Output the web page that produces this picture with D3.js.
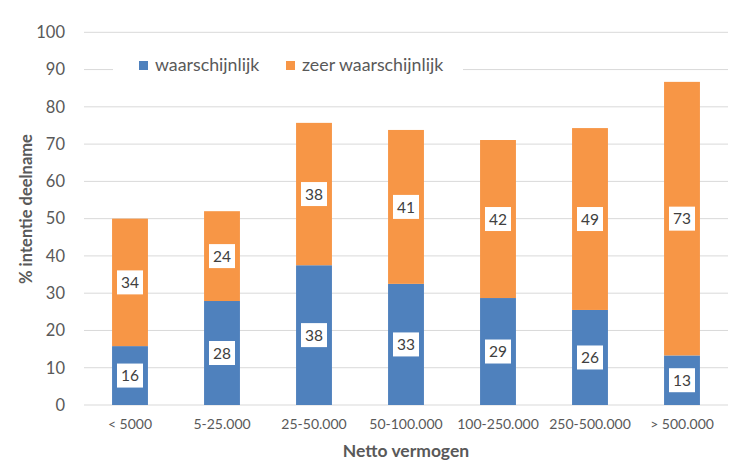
<!DOCTYPE html>
<html><head><meta charset="utf-8">
<script src="https://cdn.jsdelivr.net/npm/d3@7"></script>
<style>body{margin:0;background:#fff}svg{display:block}</style>
</head><body>
<svg id="c" width="740" height="473"></svg>
<script>
const categories = ["< 5000","5-25.000","25-50.000","50-100.000","100-250.000","250-500.000","> 500.000"];
const waarschijnlijk = [15.8, 27.9, 37.5, 32.5, 28.7, 25.5, 13.3];
const zeerWaarschijnlijk = [34.2, 24.1, 38.2, 41.3, 42.4, 48.8, 73.4];
const seriesNames = ["waarschijnlijk","zeer waarschijnlijk"];
const yTicks = [0,10,20,30,40,50,60,70,80,90,100];
const colors = ["#4F81BD","#F79646"];
const font = "Lato, 'Open Sans', sans-serif";

const svg = d3.select("#c");
const m = {left:84, right:12, top:32, bottom:68};
const W = 740, H = 473;
const x = d3.scaleBand().domain(categories).range([m.left, W-m.right]).paddingInner(0.61).paddingOuter(0.305);
const y = d3.scaleLinear().domain([0,100]).range([405, 32.3]);

// gridlines
svg.append("g").selectAll("line").data(yTicks).join("line")
  .attr("x1", m.left).attr("x2", W-m.right)
  .attr("y1", d=>y(d)).attr("y2", d=>y(d))
  .attr("stroke", "#d9d9d9").attr("stroke-width", 1);

// y axis
const yAxis = svg.append("g").attr("transform", `translate(${m.left},0)`)
  .call(d3.axisLeft(y).tickValues(yTicks).tickSize(0).tickPadding(19));
yAxis.select(".domain").remove();
yAxis.selectAll("text").attr("font-family", font).attr("font-size", 16.5).attr("fill", "#595959");

// x axis
const xAxis = svg.append("g").attr("transform", `translate(0,${y(0)})`)
  .call(d3.axisBottom(x).tickSize(0).tickPadding(14));
xAxis.select(".domain").remove();
xAxis.selectAll("text").attr("font-family", font).attr("font-size", 14).attr("fill", "#595959");

// stack
const rows = categories.map((c,i)=>({cat:c, a:waarschijnlijk[i], b:zeerWaarschijnlijk[i]}));
const stack = d3.stack().keys(["a","b"])(rows);

const g = svg.append("g");
stack.forEach((layer, li) => {
  g.append("g").selectAll("rect").data(layer).join("rect")
    .attr("x", d=>x(d.data.cat)).attr("width", x.bandwidth())
    .attr("y", d=>y(d[1])).attr("height", d=>y(d[0])-y(d[1]))
    .attr("fill", colors[li]);
});
// labels
stack.forEach((layer, li) => {
  const lg = g.append("g").selectAll("g").data(layer).join("g")
    .attr("transform", d=>`translate(${x(d.data.cat)+x.bandwidth()/2},${y((d[0]+d[1])/2)})`);
  lg.append("rect").attr("x",-13).attr("y",-12).attr("width",26).attr("height",24).attr("fill","#fff");
  lg.append("text").attr("text-anchor","middle").attr("dy","0.36em")
    .attr("font-family", font).attr("font-size", 15.5).attr("fill","#404040")
    .text(d=>Math.round(d[1]-d[0]));
});

// legend
const leg = svg.append("g");
leg.append("rect").attr("x",113).attr("y",50).attr("width",350).attr("height",30).attr("fill","#fff");
const legX = [139, 286];
seriesNames.forEach((s,i)=>{
  leg.append("rect").attr("x",legX[i]).attr("y",61).attr("width",9).attr("height",9).attr("fill",colors[i]);
  leg.append("text").attr("x",legX[i]+16).attr("y",71)
    .attr("font-family", font).attr("font-size", 17.8).attr("fill","#595959").text(s);
});

// axis titles
svg.append("text").attr("transform",`translate(32,209) rotate(-90)`)
  .attr("text-anchor","middle").attr("font-family",font).attr("font-weight","bold")
  .attr("font-size",16.5).attr("fill","#595959").text("% intentie deelname");
svg.append("text").attr("x",(m.left+W-m.right)/2).attr("y",457)
  .attr("text-anchor","middle").attr("font-family",font).attr("font-weight","bold")
  .attr("font-size",17.5).attr("fill","#595959").text("Netto vermogen");
</script>
</body></html>
